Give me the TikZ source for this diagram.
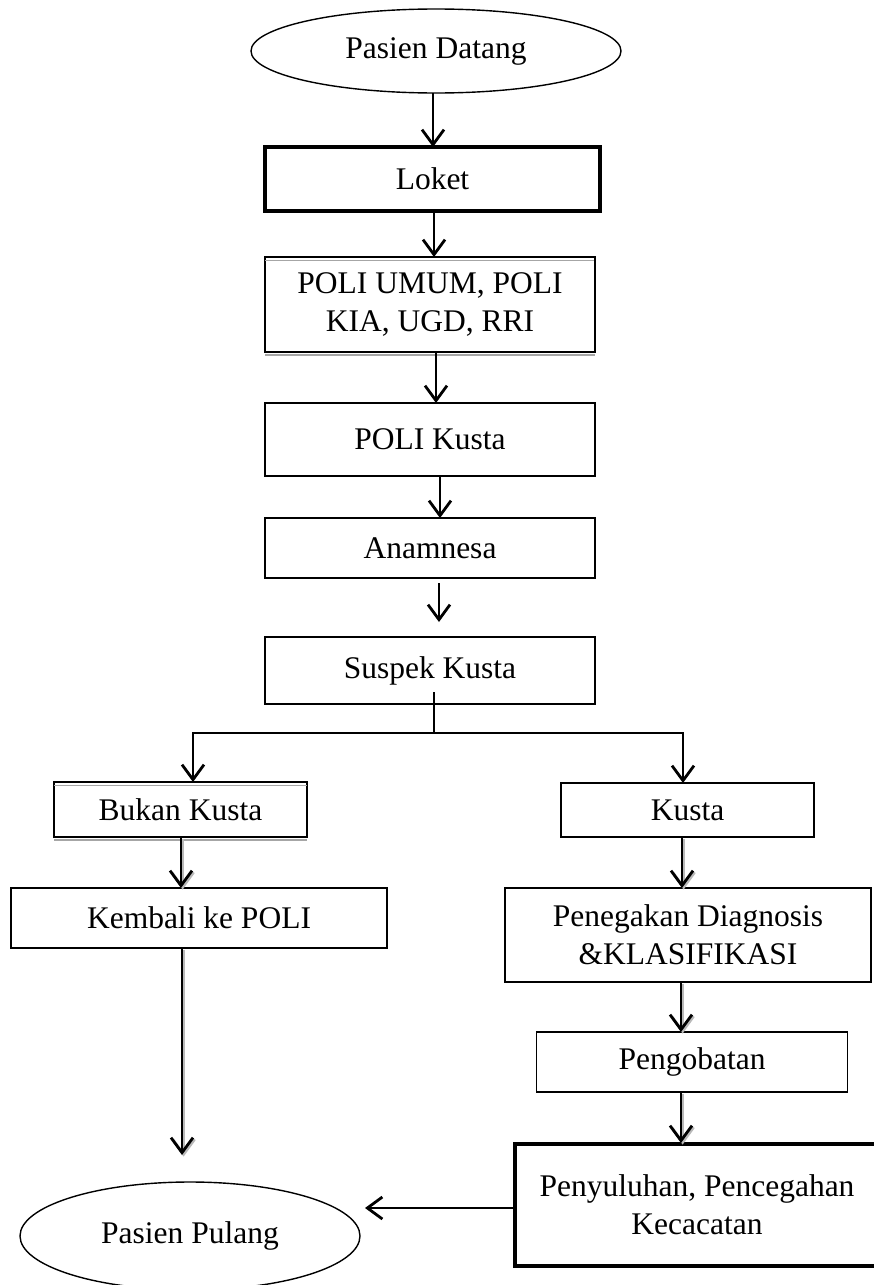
\documentclass[tikz,border=0pt]{standalone}
\usepackage{fontspec}
\setmainfont{Liberation Serif}
\usetikzlibrary{shapes.geometric,arrows.meta,calc}
\begin{document}
\begin{tikzpicture}[x=1pt,y=-1pt,
  every node/.style={font=\fontsize{31.5}{38}\selectfont, align=center,
                     inner sep=0pt, outer sep=0pt},
  sz/.style 2 args={minimum width=#1pt, minimum height=#2pt},
  box/.style={draw, rectangle, line width=1.8pt, fill=white},
  heavybox/.style={box, line width=4pt},
  oval/.style={draw, ellipse, line width=1.4pt, fill=white},
  flow/.style={line width=2.8pt, -{Straight Barb[length=15pt,width=22pt]}},
  shadowed/.style={preaction={draw=gray!55, line width=2.8pt,
                   -{Straight Barb[length=15pt,width=22pt]},
                   transform canvas={xshift=1.6pt,yshift=-1.6pt}}},
  edgeline/.style={line width=1.6pt, gray!70}
]
\useasboundingbox (0,0) rectangle (874,1285);
\clip (0,0) rectangle (874,1285);

% main column
\node[oval, sz={370}{84}]      (datang)  at (436,51)    {Pasien Datang};
\node[heavybox, sz={335}{64}]  (loket)   at (432.5,179) {Loket};
\node[box, sz={330}{95}]       (poli)    at (430,304.5) {POLI UMUM, POLI\\KIA, UGD, RRI};
\node[box, sz={330}{73}]       (polik)   at (430,439.5) {POLI Kusta};
\node[box, sz={330}{60}]       (anam)    at (430,548)   {Anamnesa};
\node[box, sz={330}{67}]       (suspek)  at (430,670.5) {Suspek Kusta};

% left branch
\node[box, sz={253}{55}]       (bukan)   at (180.5,809.5) {Bukan Kusta};
\node[box, sz={376}{60}]       (kembali) at (199,918)     {Kembali ke POLI};
\node[oval, sz={340}{108}]     (pulang)  at (190,1236)    {Pasien Pulang};

% right branch
\node[box, sz={253}{54}]       (kusta)   at (687.5,810)   {Kusta};
\node[box, sz={366}{94}]       (tegak)   at (688,935)     {Penegakan Diagnosis\\\&KLASIFIKASI};
\node[box, sz={311}{60}]       (obat)    at (692,1062)    {Pengobatan};
\node[heavybox, sz={364}{122}] (suluh)   at (697,1205)    {Penyuluhan, Pencegahan\\Kecacatan};

% doubled top and bottom edges
\draw[edgeline] ([yshift=-3.5pt]poli.north west) -- ([yshift=-3.5pt]poli.north east);
\draw[edgeline] ([yshift=-3pt]poli.south west) -- ([yshift=-3pt]poli.south east);
\draw[line width=2.8pt] (poli.north east) -- (poli.south east);
\draw[edgeline] ([yshift=-3.5pt]bukan.north west) -- ([yshift=-3.5pt]bukan.north east);
\draw[edgeline] ([yshift=-3pt]bukan.south west) -- ([yshift=-3pt]bukan.south east);

% connectors of the main column
\draw[flow] ([xshift=-3pt]datang.south) -- ([xshift=-3pt]datang.south |- loket.north);
\draw[flow] ([xshift=1.5pt]loket.south) -- ([xshift=1.5pt]loket.south |- poli.north);
\draw[flow] ([xshift=6pt]poli.south) -- ([xshift=6pt]poli.south |- polik.north);
\draw[flow] ([xshift=10pt]polik.south) -- ([xshift=10pt]polik.south |- anam.north);
\draw[flow, shorten <=5pt, shorten >=15pt]
  ([xshift=9pt]anam.south) -- ([xshift=9pt]anam.south |- suspek.north);

% split into the two branches
\coordinate (split) at (434,733);
\coordinate (lft)   at (193,733);
\coordinate (rgt)   at (683,733);
\draw[line width=2.8pt, shorten <=-12pt] (split |- suspek.south) -- (split);
\draw[flow] (split) -- (lft) -- (lft |- bukan.north);
\draw[flow] (split) -- (rgt) -- (rgt |- kusta.north);

% left branch connectors
\draw[flow, shadowed] ([xshift=0.5pt]bukan.south) -- ([xshift=0.5pt]bukan.south |- kembali.north);
\draw[flow, shadowed, shorten >=27pt]
  ([xshift=-17pt]kembali.south) -- ([xshift=-17pt]kembali.south |- pulang.north);

% right branch connectors
\draw[flow, shadowed] ([xshift=-5.5pt]kusta.south) -- ([xshift=-5.5pt]kusta.south |- tegak.north);
\draw[flow, shadowed] ([xshift=-7pt]tegak.south) -- ([xshift=-7pt]tegak.south |- obat.north);
\draw[flow, shadowed, shorten >=1pt]
  ([xshift=-11pt]obat.south) -- ([xshift=-11pt]obat.south |- suluh.north);
\draw[flow, shorten >=5pt]
  ([yshift=-3pt]suluh.west) -- ([yshift=-3pt]suluh.west -| pulang.east);
\end{tikzpicture}
\end{document}
